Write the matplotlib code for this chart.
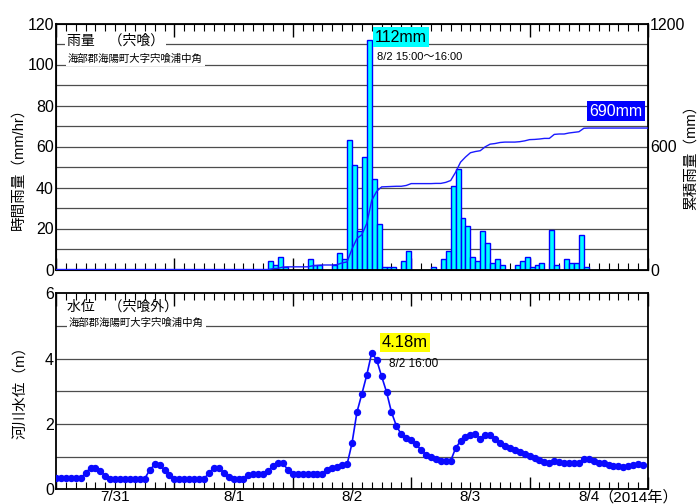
import numpy as np
import matplotlib
matplotlib.use('Agg')
import matplotlib.pyplot as plt
import matplotlib.transforms as mtransforms

plt.rcParams['font.family'] = ['Liberation Sans', 'Noto Sans CJK JP']

# hourly rainfall (mm), keyed by the hour the interval ends (hours from 7/31 0:00)
rain_end_hour = [44, 45, 46, 47, 52, 53, 54, 57, 58, 59, 60, 61, 62, 63, 64, 65, 66,
                 67, 68, 69, 71, 72, 77, 79, 80, 81, 82, 83, 84, 85, 86, 87, 88, 89,
                 90, 91, 94, 95, 96, 97, 98, 99, 101, 102, 104, 105, 106, 107, 108]
rain_mm = [4, 2, 6, 1, 5, 2, 2, 2, 8, 5, 63, 51, 19, 55, 112, 44, 22,
           1, 1, 1, 4, 9, 1, 5, 9, 40.5, 49, 25, 21, 6, 4, 19, 13, 3,
           5, 2, 2, 4, 6, 1, 2, 3, 19.5, 2, 5, 3, 3, 17, 1]

# hourly river water level (m), hours 0..119 from 7/31 0:00
level_m = [0.34, 0.34, 0.34, 0.34, 0.34, 0.34,
           0.50, 0.66, 0.66, 0.56, 0.40,
           0.33, 0.33, 0.33, 0.33, 0.33, 0.33, 0.33, 0.33,
           0.59, 0.76, 0.74, 0.59, 0.45,
           0.32, 0.32, 0.32, 0.32, 0.32, 0.32, 0.32,
           0.50, 0.66, 0.66, 0.51, 0.38,
           0.32, 0.32, 0.32,
           0.45, 0.46, 0.46, 0.46,
           0.55, 0.71, 0.79, 0.79, 0.60,
           0.48, 0.48, 0.48, 0.48, 0.48, 0.48, 0.48,
           0.59, 0.66, 0.68, 0.73, 0.76,
           1.41, 2.36, 2.92, 3.50, 4.18, 3.96, 3.46, 2.98, 2.36, 1.94,
           1.68, 1.58, 1.50, 1.38, 1.20, 1.06, 1.00, 0.93, 0.88, 0.86,
           0.87, 1.26, 1.48, 1.61, 1.67, 1.68, 1.55, 1.66, 1.67, 1.55,
           1.41, 1.33, 1.25, 1.19, 1.13, 1.07, 1.02, 0.96, 0.89, 0.84,
           0.80, 0.88, 0.84, 0.80, 0.80, 0.80, 0.80, 0.94, 0.92, 0.86,
           0.82, 0.79, 0.75, 0.72, 0.70, 0.68, 0.70, 0.73, 0.76, 0.75]
level_hour = np.arange(len(level_m))

day_labels = ['7/31', '8/1', '8/2', '8/3', '8/4']

fig = plt.figure(figsize=(6.99, 5.04), dpi=100)
ax = fig.add_axes([56/699, 1-269.5/504, 592/699, 246/504])
axw = fig.add_axes([56/699, 1-489.3/504, 592/699, 196/504])

tick_fs = 11.5


def style_x(a):
    a.set_xlim(0, 120)
    a.set_xticks(np.arange(0, 121, 24))
    a.set_xticks(np.arange(0, 121, 2), minor=True)
    a.tick_params(axis='x', which='both', direction='in', top=True, bottom=True,
                  labelbottom=False)
    a.tick_params(axis='x', which='major', length=9, width=1)
    a.tick_params(axis='x', which='minor', length=5, width=0.8)
    a.tick_params(axis='y', length=0, pad=1.5, labelsize=tick_fs)
    for s in a.spines.values():
        s.set_linewidth(1.3)


# ---- rainfall panel ----
style_x(ax)
ax.set_ylim(0, 120)
ax.set_yticks(range(0, 121, 20))
for v in range(10, 120, 10):
    ax.axhline(v, color='#4d4d4d', lw=0.9, zorder=1)
ax.bar(np.array(rain_end_hour) - 1, rain_mm, width=1, align='edge',
       color='#00ffff', edgecolor='#0000ff', linewidth=1, zorder=2)

hourly = np.zeros(121)
hourly[rain_end_hour] = rain_mm
cum = np.cumsum(hourly)

ax2 = ax.twinx()
ax2.set_ylim(0, 1200)
ax2.set_yticks([0, 600, 1200])
ax2.tick_params(length=0, pad=1.5, labelsize=tick_fs)
ax2.plot(np.arange(121), cum, color='#1a1aff', lw=1, zorder=3)

ax.text(0.019, 0.929, '雨量　（宍喰）', transform=ax.transAxes, fontsize=10,
        va='center', ha='left', zorder=4,
        bbox=dict(facecolor='white', edgecolor='none', pad=1.5))
ax.text(0.02, 0.856, '海部郡海陽町大字宍喰浦中角', transform=ax.transAxes, fontsize=7.5,
        va='center', ha='left', zorder=4,
        bbox=dict(facecolor='white', edgecolor='none', pad=1.5))

ax2.text(64.6, 1134, '112mm', fontsize=11.5, ha='left', va='center', zorder=5,
         bbox=dict(facecolor='#00ffff', edgecolor='none', pad=1.5))
ax2.text(65.1, 1035, '8/2 15:00～16:00', fontsize=8, ha='left', va='center', zorder=5)
ax2.text(118.9, 773, '690mm', fontsize=11.5, ha='right', va='center', color='white',
         zorder=5, bbox=dict(facecolor='#0000ff', edgecolor='none', pad=1.5))

# ---- water level panel ----
style_x(axw)
axw.set_ylim(0, 6)
axw.set_yticks([0, 2, 4, 6])
for v in range(1, 6):
    axw.axhline(v, color='#4d4d4d', lw=0.9, zorder=1)
axw.plot(level_hour, level_m, '-o', color='#0a0aff', ms=4.3, lw=1.2, zorder=3)

axw.text(0.019, 0.930, '水位　（宍喰外）', transform=axw.transAxes, fontsize=10,
         va='center', ha='left', zorder=4)
axw.text(0.022, 0.850, '海部郡海陽町大字宍喰浦中角', transform=axw.transAxes, fontsize=7.5,
         va='center', ha='left', zorder=4,
         bbox=dict(facecolor='white', edgecolor='none', pad=1.5))
axw.text(66.1, 4.50, '4.18m', fontsize=12, ha='left', va='center', zorder=5,
         bbox=dict(facecolor='#ffff00', edgecolor='none', pad=1.5))
axw.text(67.5, 3.85, '8/2 16:00', fontsize=8.5, ha='left', va='center', zorder=5)

trans = mtransforms.blended_transform_factory(axw.transData, axw.transAxes)
for i, lab in enumerate(day_labels):
    axw.text(12 + 24 * i, -0.003, lab, transform=trans, ha='center', va='top',
             fontsize=11)
axw.text(110, -0.003, '（2014年）', transform=trans, ha='left', va='top', fontsize=11)

# axis titles
fig.text(18/699, 1-165/504, '時間雨量（mm/hr）', rotation=90, ha='center', va='center',
         fontsize=10.5)
fig.text(21/699, 1-389/504, '河川水位（m）', rotation=90, ha='center', va='center',
         fontsize=10.5)
fig.text(691/699, 1-154/504, '累積雨量（mm）', rotation=90, ha='center', va='center',
         fontsize=10.5)

fig.savefig('out.png', dpi=100)
